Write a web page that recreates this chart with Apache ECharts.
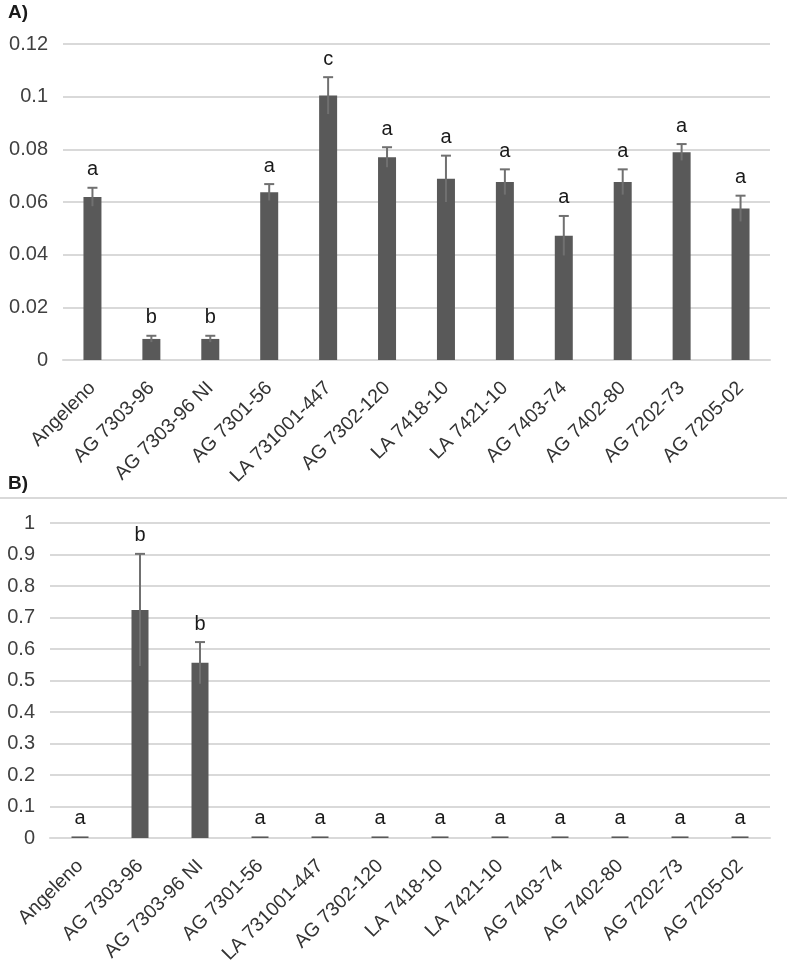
<!DOCTYPE html>
<html>
<head>
<meta charset="utf-8">
<script src="https://cdn.jsdelivr.net/npm/echarts@6/dist/echarts.min.js"></script>
<style>
  html, body { margin: 0; padding: 0; background: #fff; }
  #chart { width: 787px; height: 961px; }
</style>
</head>
<body>
<div id="chart"></div>
<script>
const categories = ['Angeleno', 'AG 7303-96', 'AG 7303-96 NI', 'AG 7301-56', 'LA 731001-447', 'AG 7302-120',
  'LA 7418-10', 'LA 7421-10', 'AG 7403-74', 'AG 7402-80', 'AG 7202-73', 'AG 7205-02']

// panel A
const valuesA = [0.0619, 0.0080, 0.0080, 0.0637, 0.1004, 0.0770, 0.0688, 0.0676, 0.0472, 0.0676, 0.0789, 0.0575]
const errorsA = [0.0035, 0.0012, 0.0012, 0.0031, 0.0070, 0.0038, 0.0088, 0.0048, 0.0075, 0.0048, 0.0031, 0.0049]
const lettersA = ['a', 'b', 'b', 'a', 'c', 'a', 'a', 'a', 'a', 'a', 'a', 'a']

// panel B
const valuesB = [0.005, 0.724, 0.556, 0.005, 0.005, 0.005, 0.005, 0.005, 0.005, 0.005, 0.005, 0.005]
const errorsB = [0, 0.178, 0.066, 0, 0, 0, 0, 0, 0, 0, 0, 0]
const lettersB = ['a', 'b', 'b', 'a', 'a', 'a', 'a', 'a', 'a', 'a', 'a', 'a']

const FONT = 'Liberation Sans, Arial, sans-serif'
const barColor = '#595959'
const errColor = '#707070'
const gridColor = '#d9d9d9'

function errorSeries(idx, values, errors, letters) {
  return {
    type: 'custom',
    xAxisIndex: idx,
    yAxisIndex: idx,
    z: 5,
    data: values.map((v, i) => [i, v, errors[i]]),
    renderItem(params, api) {
      const i = api.value(0)
      const v = api.value(1)
      const e = api.value(2)
      const top = api.coord([i, v + e])
      const bot = api.coord([i, v - e])
      const children = []
      if (e > 0) {
        children.push({
          type: 'line',
          shape: { x1: top[0], y1: top[1], x2: bot[0], y2: bot[1] },
          style: { stroke: errColor, lineWidth: 2 }
        })
        children.push({
          type: 'line',
          shape: { x1: top[0] - 5, y1: top[1], x2: top[0] + 5, y2: top[1] },
          style: { stroke: errColor, lineWidth: 2 }
        })
      }
      // significance letter above the error bar
      children.push({
        type: 'text',
        style: {
          text: letters[params.dataIndex],
          x: top[0],
          y: top[1] - 8,
          align: 'center',
          verticalAlign: 'bottom',
          font: '20px ' + FONT,
          fill: '#1a1a1a'
        }
      })
      return { type: 'group', children: children }
    }
  }
}

const chart = echarts.init(document.getElementById('chart'), null, { renderer: 'canvas' })

const xAxisBase = {
  type: 'category',
  data: categories,
  axisLine: { lineStyle: { color: gridColor, width: 2 } },
  axisTick: { show: false },
  axisLabel: {
    rotate: 45,
    interval: 0,
    margin: 25,
    fontSize: 19.5,
    fontFamily: FONT,
    color: '#333'
  }
}

const yAxisBase = {
  type: 'value',
  axisLine: { show: false },
  axisTick: { show: false },
  splitLine: { lineStyle: { color: gridColor, width: 2 } },
  axisLabel: { margin: 15, fontSize: 20, fontFamily: FONT, color: '#404040' }
}

chart.setOption({
  animation: false,
  backgroundColor: '#fff',
  graphic: [
    { type: 'text', left: 8, top: 3, style: { text: 'A)', font: 'bold 19px ' + FONT, fill: '#1a1a1a' } },
    { type: 'text', left: 8, top: 474, style: { text: 'B)', font: 'bold 19px ' + FONT, fill: '#1a1a1a' } },
    { type: 'line', shape: { x1: 0, y1: 498, x2: 787, y2: 498 }, style: { stroke: gridColor, lineWidth: 2 } }
  ],
  grid: [
    { left: 63, right: 17, top: 44, height: 316, outerBoundsMode: 'none' },
    { left: 50, right: 17, top: 523, height: 315, outerBoundsMode: 'none' }
  ],
  xAxis: [
    Object.assign({ gridIndex: 0 }, xAxisBase),
    Object.assign({ gridIndex: 1 }, xAxisBase)
  ],
  yAxis: [
    Object.assign({ gridIndex: 0, min: 0, max: 0.12, interval: 0.02 }, yAxisBase),
    Object.assign({ gridIndex: 1, min: 0, max: 1, interval: 0.1 }, yAxisBase)
  ],
  series: [
    {
      type: 'bar',
      xAxisIndex: 0,
      yAxisIndex: 0,
      barWidth: 18,
      data: valuesA,
      itemStyle: { color: barColor }
    },
    errorSeries(0, valuesA, errorsA, lettersA),
    {
      type: 'bar',
      xAxisIndex: 1,
      yAxisIndex: 1,
      barWidth: 17,
      data: valuesB,
      itemStyle: { color: barColor }
    },
    errorSeries(1, valuesB, errorsB, lettersB)
  ]
})
</script>
</body>
</html>
